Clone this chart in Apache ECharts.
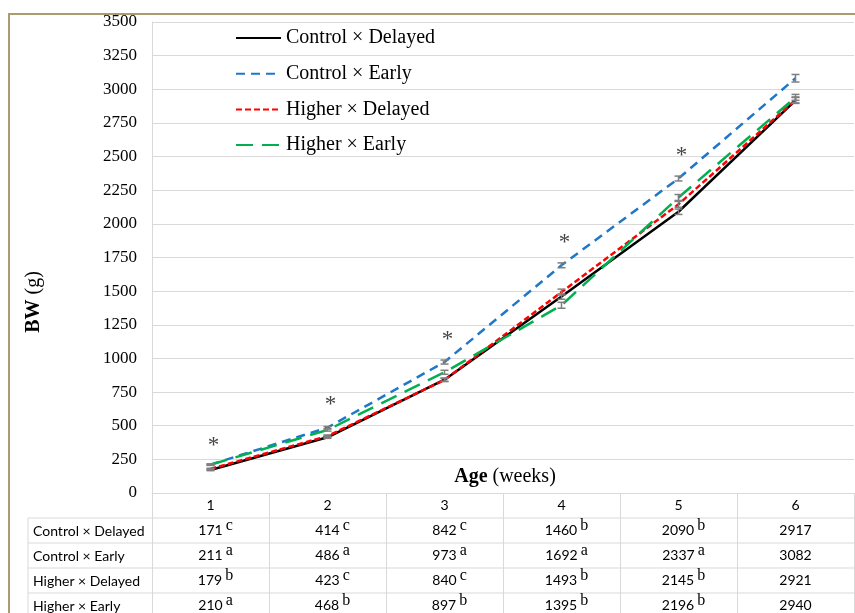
<!DOCTYPE html>
<html><head><meta charset="utf-8">
<script src="https://cdn.jsdelivr.net/npm/echarts@6/dist/echarts.min.js"></script>
<style>html,body{margin:0;padding:0;background:#fff}#c{width:855px;height:613px}</style>
</head><body><div id="c"></div>
<script>
// ---- data ----
const weeks = ['1', '2', '3', '4', '5', '6'];
const seriesNames = ['Control × Delayed', 'Control × Early', 'Higher × Delayed', 'Higher × Early'];
const controlDelayed = [171, 414, 842, 1460, 2090, 2917];
const controlEarly   = [211, 486, 973, 1692, 2337, 3082];
const higherDelayed  = [179, 423, 840, 1493, 2145, 2921];
const higherEarly    = [210, 468, 897, 1395, 2196, 2940];
const controlDelayedLetters = ['c', 'c', 'c', 'b', 'b', ''];
const controlEarlyLetters   = ['a', 'a', 'a', 'a', 'a', ''];
const higherDelayedLetters  = ['b', 'c', 'c', 'b', 'b', ''];
const higherEarlyLetters    = ['a', 'b', 'b', 'b', 'b', ''];
const controlDelayedErr = [5, 8, 12, 20, 20, 22];
const controlEarlyErr   = [5, 8, 15, 18, 18, 28];
const higherDelayedErr  = [5, 8, 12, 22, 22, 22];
const higherEarlyErr    = [5, 8, 15, 22, 22, 22];
const starWeeks  = ['1', '2', '3', '4', '5'];
const starValues = [386, 691, 1174, 1895, 2541];
const yMin = 0, yMax = 3500, yStep = 250;

// ---- styles / layout ----
const W = 855, H = 613;
const G = { left: 152, right: 1, top: 22, bottom: 120 };
const rowH = 25;
const values = [controlDelayed, controlEarly, higherDelayed, higherEarly];
const letters = [controlDelayedLetters, controlEarlyLetters, higherDelayedLetters, higherEarlyLetters];
const errs = [controlDelayedErr, controlEarlyErr, higherDelayedErr, higherEarlyErr];
const colors = ['#000000', '#1f77c9', '#ff0000', '#00b050'];
const dashes = ['solid', [9, 6], [6, 3], [17, 9]];
const gridCol = '#d9d9d9';
const serif = '"Liberation Serif", "Times New Roman", serif';
const sans = 'Lato, "Open Sans", sans-serif';

const chart = echarts.init(document.getElementById('c'), null, { renderer: 'canvas' });

const series = [];
values.forEach((v, i) => {
  series.push({
    name: seriesNames[i], type: 'line', data: v, symbol: 'none', showSymbol: false,
    lineStyle: { color: colors[i], width: 2.5, type: dashes[i] },
    itemStyle: { color: colors[i] }, z: 3 + i, animation: false
  });
});
values.forEach((v, i) => {
  series.push({
    type: 'custom', z: 10, animation: false, silent: true,
    data: v.map((val, k) => [k, val, errs[i][k]]),
    renderItem: (params, api) => {
      const x = api.value(0), y = api.value(1), e = api.value(2);
      const hi = api.coord([x, y + e]), lo = api.coord([x, y - e]);
      const cw = 4;
      const st = { stroke: '#7f7f7f', lineWidth: 1.5 };
      return { type: 'group', children: [
        { type: 'line', shape: { x1: hi[0], y1: hi[1], x2: lo[0], y2: lo[1] }, style: st },
        { type: 'line', shape: { x1: hi[0] - cw, y1: hi[1], x2: hi[0] + cw, y2: hi[1] }, style: st },
        { type: 'line', shape: { x1: lo[0] - cw, y1: lo[1], x2: lo[0] + cw, y2: lo[1] }, style: st }
      ]};
    }
  });
});
series.push({
  type: 'scatter', symbolSize: 1, itemStyle: { color: 'rgba(0,0,0,0)' }, silent: true, animation: false,
  data: starWeeks.map((w, k) => [w, starValues[k]]),
  label: { show: true, position: 'inside', formatter: '*', fontFamily: serif, fontSize: 23, color: '#111', offset: [3, 5] }
});

function tableLabel(v, idx) {
  let s = '{h|' + v + '}';
  for (let r = 0; r < values.length; r++) {
    const L = letters[r][idx];
    s += '\n' + (L ? '{p|}{n|' + values[r][idx] + '}{s|' + L + '}' : '{n|' + values[r][idx] + '}');
  }
  return s;
}

const tableTop = H - G.bottom;
const graphics = [];
// frame
graphics.push({ type: 'polyline', shape: { points: [[9, H], [9, 14], [W, 14]] }, style: { stroke: '#ab9c6b', lineWidth: 2, fill: null }, silent: true });
// table horizontal lines
for (let r = 1; r <= values.length; r++) {
  graphics.push({ type: 'line', shape: { x1: 28, y1: tableTop + r * rowH, x2: W, y2: tableTop + r * rowH }, style: { stroke: gridCol, lineWidth: 1 }, silent: true });
}
graphics.push({ type: 'line', shape: { x1: 28, y1: tableTop + rowH, x2: 28, y2: H }, style: { stroke: gridCol, lineWidth: 1 }, silent: true });
// row labels
seriesNames.forEach((n, r) => {
  graphics.push({ type: 'text', x: 33, y: tableTop + rowH * (r + 1) + rowH / 2 + 0.5, style: { text: n, font: '14px ' + sans, fill: '#000', verticalAlign: 'middle' }, silent: true });
});
// axis titles
graphics.push({ type: 'text', x: 34, y: 302, rotation: Math.PI / 2,
  style: { text: '{b|BW} (g)', font: '20px ' + serif, fill: '#000', align: 'center', verticalAlign: 'middle',
    rich: { b: { fontWeight: 'bold', fontFamily: serif, fontSize: 20, fill: '#000' } } }, silent: true });
graphics.push({ type: 'text', x: G.left + (W - G.left - G.right) / 2 + 2, y: 477,
  style: { text: '{b|Age} (weeks)', font: '20px ' + serif, fill: '#000', align: 'center', verticalAlign: 'middle',
    rich: { b: { fontWeight: 'bold', fontFamily: serif, fontSize: 20, fill: '#000' } } }, silent: true });

chart.setOption({
  animation: false,
  backgroundColor: '#fff',
  grid: { left: G.left, right: G.right, top: G.top, bottom: G.bottom, outerBoundsMode: 'none', containLabel: false },
  legend: {
    data: seriesNames, orient: 'vertical', left: 230, top: 23, itemWidth: 45, itemHeight: 14, itemGap: 15.7,
    itemStyle: { opacity: 0 },
    textStyle: { fontFamily: serif, fontSize: 20, color: '#000' }
  },
  xAxis: {
    type: 'category', data: weeks, boundaryGap: true,
    axisLine: { show: true, lineStyle: { color: gridCol, width: 1 } },
    axisTick: { show: true, interval: 0, length: G.bottom, lineStyle: { color: gridCol, width: 1 } },
    splitLine: { show: false },
    axisLabel: {
      interval: 0, margin: 0, formatter: tableLabel, color: '#000', hideOverlap: false,
      rich: {
        h: { fontFamily: sans, fontSize: 14, lineHeight: rowH, color: '#000' },
        n: { fontFamily: sans, fontSize: 14, lineHeight: rowH, color: '#000' },
        p: { width: 10, lineHeight: rowH },
        s: { fontFamily: serif, fontSize: 16, color: '#000', verticalAlign: 'top', lineHeight: 15, padding: [0, 0, 0, 3] }
      }
    }
  },
  yAxis: {
    type: 'value', min: yMin, max: yMax, interval: yStep,
    axisLine: { show: true, lineStyle: { color: gridCol, width: 1 } },
    axisTick: { show: false },
    splitLine: { show: true, lineStyle: { color: gridCol, width: 1 } },
    axisLabel: { margin: 15, fontFamily: serif, fontSize: 17, color: '#000', formatter: v => String(v) }
  },
  graphic: graphics,
  series: series
});
</script></body></html>
